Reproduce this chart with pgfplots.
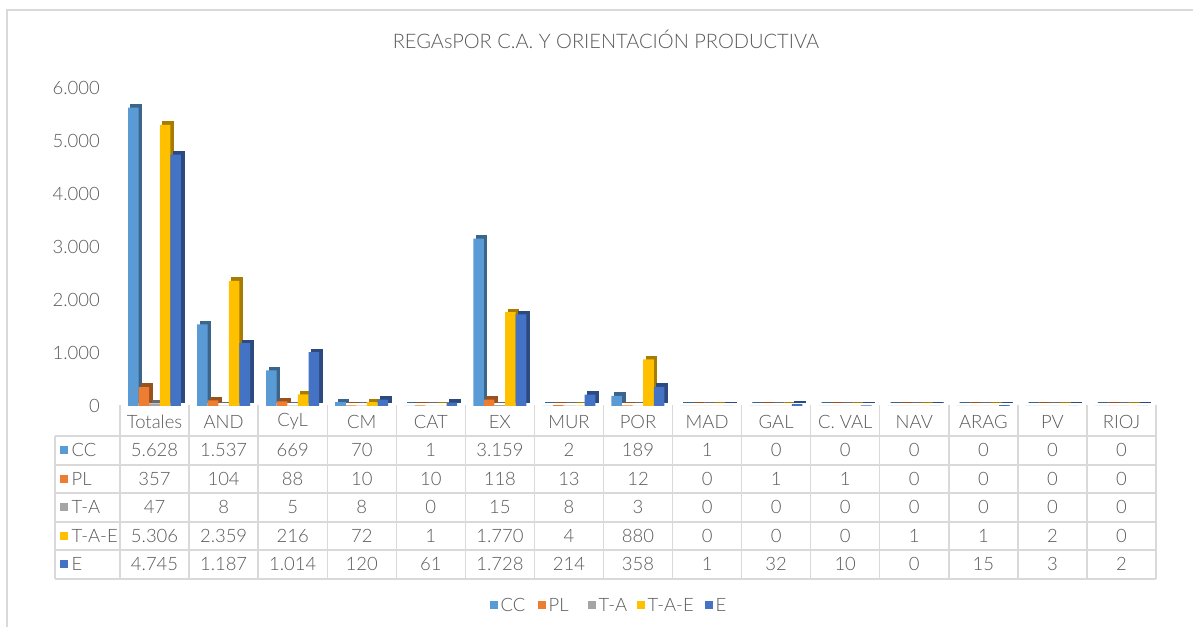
\documentclass[border=0pt]{standalone}
\usepackage{fontspec}
\setmainfont{Lato Light}
\usepackage{pgfplots}
\usepackage{pgfplotstable}
\pgfplotsset{compat=1.18}
\definecolor{ccc}{RGB}{91,155,213}
\definecolor{plc}{RGB}{237,125,49}
\definecolor{tac}{RGB}{165,165,165}
\definecolor{taec}{RGB}{255,192,0}
\definecolor{ec}{RGB}{68,114,196}
\definecolor{txt}{RGB}{89,89,89}
\definecolor{gridc}{RGB}{217,217,217}

% one row per comunidad: x index, then the five orientations
\pgfplotstableread{
x CC PL TA TAE E
0 5628 357 47 5306 4745
1 1537 104 8 2359 1187
2 669 88 5 216 1014
3 70 10 8 72 120
4 1 10 0 1 61
5 3159 118 15 1770 1728
6 2 13 8 4 214
7 189 12 3 880 358
8 1 0 0 0 1
9 0 1 0 0 32
10 0 1 0 0 10
11 0 0 0 1 0
12 0 0 0 1 15
13 0 0 0 2 3
14 0 0 0 0 2
}\datatable

\newcommand{\fsz}{\fontsize{10.5}{12}\selectfont}

\begin{document}
\begin{tikzpicture}
% picture frame in pixel units (y downwards)
\begin{scope}[x=0.02cm, y=-0.02cm]
  \path[use as bounding box] (0,0) rectangle (1193,627);
  \draw[gridc, line width=0.8pt] (7,627) -- (7,10) -- (1193,10);
  \node[txt, font=\fontsize{11.4}{14}\selectfont] at (606,39) {REGAsPOR C.A. Y ORIENTACIÓN PRODUCTIVA};
\end{scope}

\begin{axis}[
  at={(2.4cm,-8.12cm)}, anchor=south west,
  scale only axis, width=20.72cm, height=6.36cm,
  xmin=-0.5, xmax=14.5, ymin=0, ymax=6000,
  ybar, bar width=0.212cm,
  axis x line*=bottom, axis y line*=left,
  axis line style={draw=none},
  major tick length=0pt,
  xtick=\empty,
  ytick={0,1000,...,6000},
  scaled y ticks=false,
  yticklabel style={font=\fsz, text=txt,
    /pgf/number format/1000 sep={.},
    /pgf/number format/assume math mode=true},
  yticklabel shift=0.28cm,
  clip=false,
]
  \addplot[fill=ccc!65!black, draw=ccc!65!black, line width=0.6pt, bar shift=-0.424cm, xshift=0.06cm, yshift=0.06cm] table[x=x,y=CC]{\datatable};
  \addplot[fill=ccc, draw=none, bar shift=-0.424cm] table[x=x,y=CC]{\datatable};
  \addplot[fill=plc!65!black, draw=plc!65!black, line width=0.6pt, bar shift=-0.212cm, xshift=0.06cm, yshift=0.06cm] table[x=x,y=PL]{\datatable};
  \addplot[fill=plc, draw=none, bar shift=-0.212cm] table[x=x,y=PL]{\datatable};
  \addplot[fill=tac!65!black, draw=tac!65!black, line width=0.6pt, bar shift=0cm, xshift=0.06cm, yshift=0.06cm] table[x=x,y=TA]{\datatable};
  \addplot[fill=tac, draw=none, bar shift=0cm] table[x=x,y=TA]{\datatable};
  \addplot[fill=taec!65!black, draw=taec!65!black, line width=0.6pt, bar shift=0.212cm, xshift=0.06cm, yshift=0.06cm] table[x=x,y=TAE]{\datatable};
  \addplot[fill=taec, draw=none, bar shift=0.212cm] table[x=x,y=TAE]{\datatable};
  \addplot[fill=ec!65!black, draw=ec!65!black, line width=0.6pt, bar shift=0.424cm, xshift=0.06cm, yshift=0.06cm] table[x=x,y=E]{\datatable};
  \addplot[fill=ec, draw=none, bar shift=0.424cm] table[x=x,y=E]{\datatable};
\end{axis}

% data table under the plot, pixel units
\begin{scope}[x=0.02cm, y=-0.02cm, gridc, line width=0.8pt]
  \foreach \k in {0,...,15} \draw ({120+69.07*\k},405) -- ({120+69.07*\k},579);
  \draw (55,436) -- (55,579);
  \foreach \r in {436,465,493,522,550,579} \draw (55,\r) -- (1156,\r);

  \foreach [count=\i from 0] \h in {Totales,AND,CyL,CM,CAT,EX,MUR,POR,MAD,GAL,C. VAL,NAV,ARAG,PV,RIOJ}
    \node[txt, font=\fsz] at ({120+69.07*(\i+0.5)},422) {\h};

  \foreach \lab/\col/\yy in {CC/ccc/450, PL/plc/479, T-A/tac/507, T-A-E/taec/536, E/ec/564} {
    \fill[\col] (60,\yy-4) rectangle (68,\yy+4);
    \node[txt, font=\fsz, anchor=west, inner sep=0pt] at (71,\yy) {\lab};
  }
  \foreach [count=\i from 0] \v in {5.628,1.537,669,70,1,3.159,2,189,1,0,0,0,0,0,0}
    \node[txt, font=\fsz] at ({120+69.07*(\i+0.5)},450) {\v};
  \foreach [count=\i from 0] \v in {357,104,88,10,10,118,13,12,0,1,1,0,0,0,0}
    \node[txt, font=\fsz] at ({120+69.07*(\i+0.5)},479) {\v};
  \foreach [count=\i from 0] \v in {47,8,5,8,0,15,8,3,0,0,0,0,0,0,0}
    \node[txt, font=\fsz] at ({120+69.07*(\i+0.5)},507) {\v};
  \foreach [count=\i from 0] \v in {5.306,2.359,216,72,1,1.770,4,880,0,0,0,1,1,2,0}
    \node[txt, font=\fsz] at ({120+69.07*(\i+0.5)},536) {\v};
  \foreach [count=\i from 0] \v in {4.745,1.187,1.014,120,61,1.728,214,358,1,32,10,0,15,3,2}
    \node[txt, font=\fsz] at ({120+69.07*(\i+0.5)},564) {\v};

  % legend
  \foreach \lab/\col/\xx in {CC/ccc/490, PL/plc/538, T-A/tac/588, T-A-E/taec/637, E/ec/705} {
    \fill[\col] (\xx,601) rectangle (\xx+8,609);
    \node[txt, font=\fsz, anchor=west, inner sep=0pt] at (\xx+10,605) {\lab};
  }
\end{scope}
\end{tikzpicture}
\end{document}
